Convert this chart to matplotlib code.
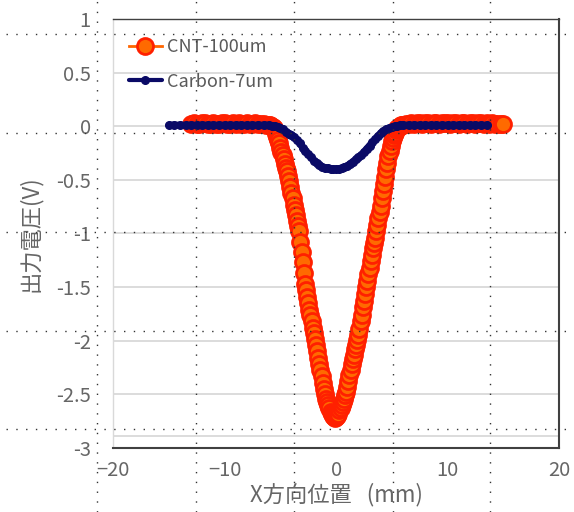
import matplotlib
matplotlib.use('Agg')
import matplotlib.pyplot as plt
from matplotlib.lines import Line2D

plt.rcParams['font.family'] = ['Noto Sans CJK JP', 'DejaVu Sans']

# CNT-100um : 平坦部(0.25mm刻み) + 谷部(0.1mm刻み) + 平坦部(0.25mm刻み)
cnt_x = ([round(-13.0 + 0.25 * i, 2) for i in range(28)]
         + [round(-6.0 + 0.1 * i, 1) for i in range(121)]
         + [round(6.25 + 0.25 * i, 2) for i in range(36)])
cnt_y = ([0.02, 0.03, 0.02, 0.02, 0.03, 0.03, 0.02, 0.02, 0.03, 0.02, 0.02, 0.03,
          0.03, 0.02, 0.02, 0.03, 0.02, 0.03, 0.02, 0.02, 0.03, 0.02, 0.02, 0.03,
          0.02, 0.02, 0.02, 0.01]
         + [0.01, 0.01, 0.00, -0.01, -0.02, -0.04, -0.07, -0.10, -0.13, -0.16,
            -0.20, -0.24, -0.27, -0.31, -0.35, -0.39, -0.42, -0.46, -0.51, -0.57,
            -0.62, -0.67, -0.73, -0.78, -0.83, -0.88, -0.93, -0.98, -1.08, -1.17,
            -1.27, -1.37, -1.47, -1.53, -1.59, -1.65, -1.71, -1.76, -1.82, -1.88,
            -1.93, -1.98, -2.04, -2.10, -2.16, -2.22, -2.27, -2.33, -2.39, -2.45,
            -2.50, -2.54, -2.57, -2.60, -2.63, -2.66, -2.68, -2.70, -2.71, -2.72,
            -2.71, -2.70, -2.68, -2.65, -2.63, -2.60, -2.57, -2.54, -2.51, -2.48,
            -2.43, -2.38, -2.32, -2.27, -2.22, -2.17, -2.13, -2.08, -2.04, -1.99,
            -1.95, -1.89, -1.82, -1.76, -1.69, -1.63, -1.56, -1.50, -1.44, -1.38,
            -1.32, -1.26, -1.20, -1.14, -1.09, -1.04, -0.98, -0.92, -0.86, -0.80,
            -0.74, -0.67, -0.60, -0.54, -0.47, -0.40, -0.34, -0.28, -0.23, -0.18,
            -0.14, -0.11, -0.08, -0.06, -0.04, -0.02, -0.01, 0.00, 0.01, 0.01,
            0.01]
         + [0.02, 0.02, 0.03, 0.02, 0.03, 0.03, 0.02, 0.03, 0.03, 0.02, 0.03, 0.03,
            0.02, 0.03, 0.03, 0.03, 0.02, 0.03, 0.03, 0.02, 0.03, 0.03, 0.02, 0.03,
            0.03, 0.02, 0.03, 0.03, 0.02, 0.03, 0.02, 0.03, 0.02, 0.02, 0.02, 0.02])

# Carbon-7um
carbon_x = ([-15.0, -14.5, -14.0, -13.5, -13.0, -12.5, -12.0, -11.5, -11.0, -10.5,
             -10.0, -9.5, -9.0, -8.5, -8.0, -7.5, -7.0, -6.5]
            + [round(-6.0 + 0.25 * i, 2) for i in range(49)]
            + [6.5, 7.0, 7.5, 8.0, 8.5, 9.0, 9.5, 10.0, 10.5, 11.0, 11.5, 12.0,
               12.5, 13.0, 13.5])
carbon_y = ([0.01] * 18
            + [0.01, 0.005, 0.0, -0.01, -0.02, -0.03, -0.05, -0.07, -0.08, -0.10,
               -0.13, -0.16, -0.20, -0.23, -0.26, -0.29, -0.32, -0.34, -0.36, -0.38,
               -0.385, -0.39, -0.40, -0.40, -0.40, -0.395, -0.39, -0.38, -0.37, -0.35,
               -0.33, -0.31, -0.29, -0.27, -0.24, -0.21, -0.18, -0.15, -0.12, -0.09,
               -0.065, -0.045, -0.03, -0.02, -0.01, 0.0, 0.005, 0.01, 0.01]
            + [0.01] * 15)

x_ticks = [-20, -10, 0, 10, 20]
y_ticks = [1, 0.5, 0, -0.5, -1, -1.5, -2, -2.5, -3]

fig = plt.figure(figsize=(5.74, 5.12), dpi=100)
ax = fig.add_axes([0.197, 0.125, 0.777, 0.838])

ax.plot(cnt_x, cnt_y, '-', color='#FF6600', lw=2, marker='o', ms=11.5,
        mfc='#FF6A00', mec='#FF2000', mew=2.0, label='CNT-100um', zorder=3)
ax.plot(carbon_x, carbon_y, '-', color='#0A0A66', lw=5, marker='o', ms=5.5,
        mfc='#0A0A66', mec='#0A0A66', solid_capstyle='round',
        label='Carbon-7um', zorder=4)

ax.set_xlim(-20, 20)
ax.set_ylim(-3, 1)
ax.set_xticks(x_ticks)
ax.set_yticks(y_ticks)
ax.set_yticklabels([f'{v:g}' for v in y_ticks])
ax.tick_params(length=0, labelsize=14.5, labelcolor='#666666')
ax.tick_params(axis='y', pad=16)
ax.tick_params(axis='x', pad=9)

ax.yaxis.grid(True, color='#D9D9D9', lw=1.3)
ax.axhline(-2.89, color='#D9D9D9', lw=1.3, zorder=0.5)
ax.set_axisbelow(True)

ax.spines['left'].set_color('#D9D9D9')
ax.spines['left'].set_linewidth(1.0)
for s in ['top', 'right', 'bottom']:
    ax.spines[s].set_color('#404040')
ax.spines['top'].set_linewidth(1.0)
ax.spines['right'].set_linewidth(1.5)
ax.spines['bottom'].set_linewidth(1.5)

ax.set_xlabel('X方向位置   (mm)', fontsize=16, color='#666666', labelpad=1)
ax.set_ylabel('出力電圧(V)', fontsize=16, color='#666666', labelpad=10)

leg = ax.legend(loc='upper left', bbox_to_anchor=(0.035, 0.955), frameon=False,
                fontsize=13, handlelength=1.85, handletextpad=0.25,
                labelspacing=0.9, borderpad=0, borderaxespad=0)
leg.legend_handles[1].set_linewidth(3)
for t in leg.get_texts():
    t.set_color('#595959')

# スクリーンショット由来の点線グリッド
for xp in [97, 196, 294, 393, 490]:
    fig.add_artist(Line2D([xp / 574, xp / 574], [0, 1], transform=fig.transFigure,
                          color='#333333', lw=1.0, ls=(0, (1, 6.05)), zorder=10))
for yp in [34, 133, 232, 331, 429]:
    yy = 1 - yp / 512
    fig.add_artist(Line2D([0.01, 1], [yy, yy], transform=fig.transFigure,
                          color='#333333', lw=1.0, ls=(0, (1, 6.05)), zorder=10))

fig.savefig('out.png', dpi=100, facecolor='white')
